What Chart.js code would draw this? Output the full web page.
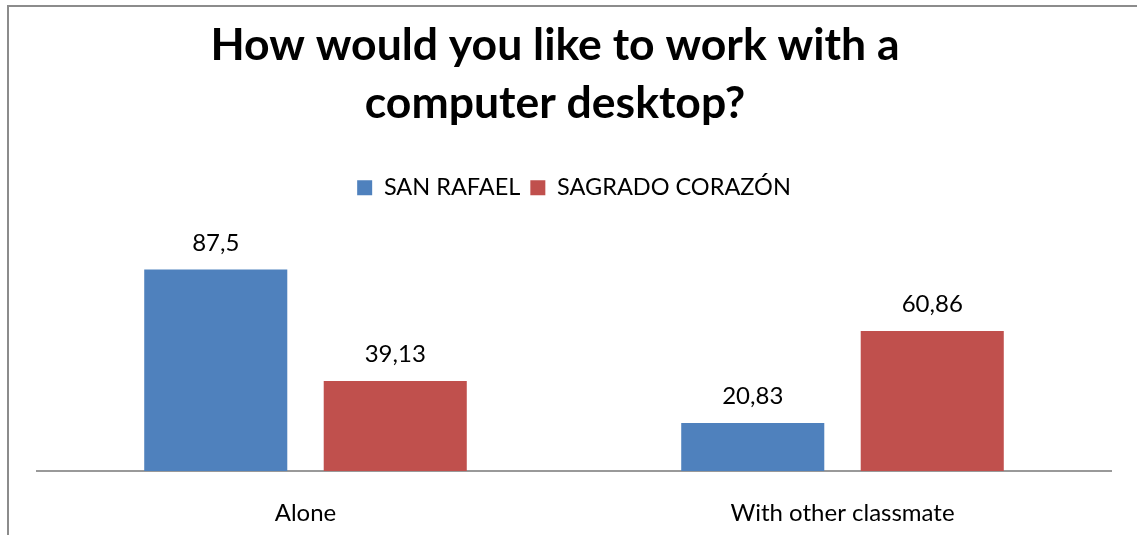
<!DOCTYPE html>
<html>
<head>
<meta charset="utf-8">
<script src="https://cdn.jsdelivr.net/npm/chart.js@4.4.0/dist/chart.umd.min.js"></script>
<style>
  html, body { margin: 0; padding: 0; background: #fff; overflow: hidden; }
  #frame { position: absolute; left: 7px; top: 5px; width: 1300px; height: 700px;
           border-left: 2px solid #8c8c8c; border-top: 2px solid #8c8c8c; box-sizing: border-box; }
  #wrap { position: absolute; left: 0; top: 0; width: 1137px; height: 535px; }
</style>
</head>
<body>
<div id="frame"></div>
<div id="wrap"><canvas id="c"></canvas></div>
<script>
const titleLines = ['How would you like to work with a', 'computer desktop?'];
const categories = ['Alone', 'With other classmate'];
const seriesNames = ['SAN RAFAEL', 'SAGRADO CORAZÓN'];
const sanRafael = [87.5, 20.83];
const sagradoCorazon = [39.13, 60.86];
const seriesColors = ['#4F81BD', '#C0504D'];

const FONT = 'Lato, "Open Sans", sans-serif';

const valueLabels = {
  id: 'valueLabels',
  afterDatasetsDraw(chart) {
    const ctx = chart.ctx;
    ctx.save();
    ctx.font = '24px ' + FONT;
    ctx.fillStyle = '#000';
    ctx.textAlign = 'center';
    ctx.textBaseline = 'alphabetic';
    chart.data.datasets.forEach((ds, di) => {
      const meta = chart.getDatasetMeta(di);
      meta.data.forEach((bar, i) => {
        const txt = String(ds.data[i]).replace('.', ',');
        ctx.fillText(txt, bar.x, bar.y - 19);
      });
    });
    ctx.restore();
  }
};

const titleShift = {
  id: 'titleShift',
  afterLayout(chart) {
    if (chart.titleBlock) { chart.titleBlock.left -= 38; }
  }
};

new Chart(document.getElementById('c'), {
  type: 'bar',
  data: {
    labels: categories,
    datasets: [
      { label: seriesNames[0], data: sanRafael, backgroundColor: seriesColors[0] },
      { label: seriesNames[1], data: sagradoCorazon, backgroundColor: seriesColors[1] }
    ]
  },
  options: {
    responsive: true,
    maintainAspectRatio: false,
    animation: false,
    layout: { padding: { left: 37, right: 26, top: 0, bottom: 0 } },
    datasets: { bar: { categoryPercentage: 0.6685, barPercentage: 0.797 } },
    plugins: {
      title: {
        display: true,
        text: titleLines,
        color: '#000',
        font: { family: FONT, size: 44.5, weight: 'bold', lineHeight: 1.303 },
        padding: { top: 17, bottom: 33 }
      },
      legend: {
        position: 'top',
        labels: {
          color: '#000',
          font: { family: FONT, size: 23.5 },
          boxWidth: 15,
          boxHeight: 15,
          padding: 10
        }
      },
      tooltip: { enabled: false }
    },
    scales: {
      x: {
        grid: { display: false },
        border: { display: true, color: '#999999', width: 2 },
        ticks: { color: '#000', font: { family: FONT, size: 24 }, padding: 20 },
        afterFit(scale) { scale.height = 64; }
      },
      y: {
        display: false,
        min: 0,
        max: 113.6
      }
    }
  },
  plugins: [valueLabels, titleShift]
});
</script>
</body>
</html>
